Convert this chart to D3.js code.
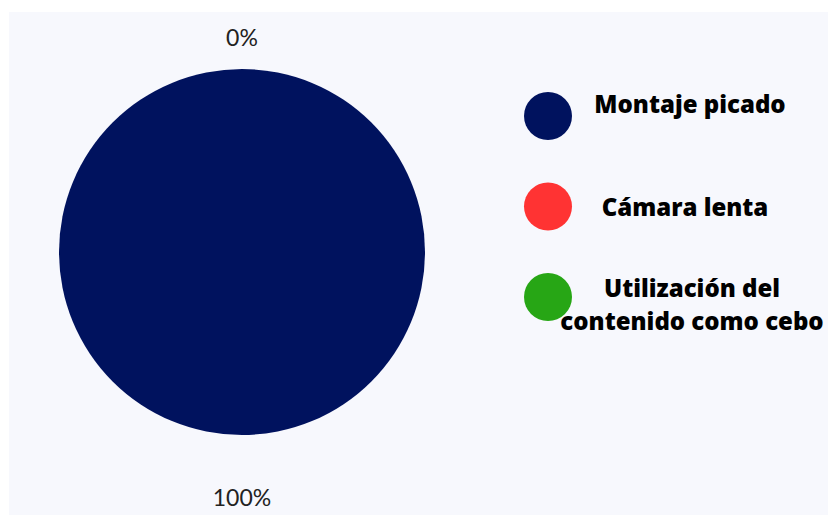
<!DOCTYPE html>
<html>
<head>
<meta charset="utf-8">
<script src="https://cdn.jsdelivr.net/npm/d3@7"></script>
<style>
  html, body { margin: 0; padding: 0; background: #ffffff; }
  svg { display: block; }
</style>
</head>
<body>
<svg id="chart" width="828" height="515"></svg>
<script>
// 数据
const categories = ['Montaje picado', 'Cámara lenta', 'Utilización del contenido como cebo'];
const values = [100, 0, 0];
const legendLines = [['Montaje picado'], ['Cámara lenta'], ['Utilización del', 'contenido como cebo']];
const colors = ['#00125e', '#ff3333', '#27a615'];

const svg = d3.select('#chart');
const W = 828, H = 515;

// 背景面板
svg.append('rect')
    .attr('x', 9).attr('y', 12)
    .attr('width', W - 9).attr('height', H - 12)
    .attr('fill', '#f7f8fd');

const cx = 242, cy = 252, r = 183;

const pie = d3.pie().sort(null).value(d => d.value);
const arcs = pie(categories.map((c, i) => ({ name: c, value: values[i], color: colors[i] })));
const arc = d3.arc().innerRadius(0).outerRadius(r);

const g = svg.append('g').attr('transform', `translate(${cx},${cy})`);

g.selectAll('path')
    .data(arcs.filter(d => d.value > 0))
    .enter().append('path')
    .attr('d', arc)
    .attr('fill', d => d.data.color);

// 百分比标签 (去掉重叠的 0%)
const total = d3.sum(values);
const labelR = 230;
const seen = new Set();
const labels = arcs.filter(d => {
    const key = Math.round(((d.startAngle + d.endAngle) / 2) * 100) + '_' + d.value;
    if (seen.has(key)) return false;
    seen.add(key);
    return true;
});
g.selectAll('text.pct')
    .data(labels)
    .enter().append('text')
    .attr('class', 'pct')
    .attr('x', d => Math.sin((d.startAngle + d.endAngle) / 2) * labelR)
    .attr('y', d => -Math.cos((d.startAngle + d.endAngle) / 2) * labelR + 16)
    .attr('text-anchor', 'middle')
    .attr('dy', '0.35em')
    .attr('font-family', 'Lato, sans-serif')
    .attr('font-size', 23)
    .attr('fill', '#222')
    .text(d => Math.round(d.value / total * 100) + '%');

// 图例
const legendY = d3.scalePoint().domain(categories).range([116, 297]);
const textShift = [-3, 9, 0]; // 文字基线相对圆心的偏移
const textX = [690, 685, 692];
const lg = svg.append('g');
const item = lg.selectAll('g.item')
    .data(categories)
    .enter().append('g')
    .attr('class', 'item')
    .attr('transform', d => `translate(0,${legendY(d)})`);

item.append('circle')
    .attr('cx', 548).attr('cy', 0).attr('r', 24)
    .attr('fill', (d, i) => colors[i]);

item.append('text')
    .attr('text-anchor', 'middle')
    .attr('font-family', '"Open Sans", sans-serif')
    .attr('font-weight', 800)
    .attr('font-size', 24)
    .attr('fill', '#000')
    .each(function(d, i) {
        const t = d3.select(this);
        legendLines[i].forEach((ln, j) => {
            t.append('tspan')
                .attr('x', textX[i])
                .attr('y', textShift[i] + j * 33)
                .text(ln);
        });
    });
</script>
</body>
</html>
